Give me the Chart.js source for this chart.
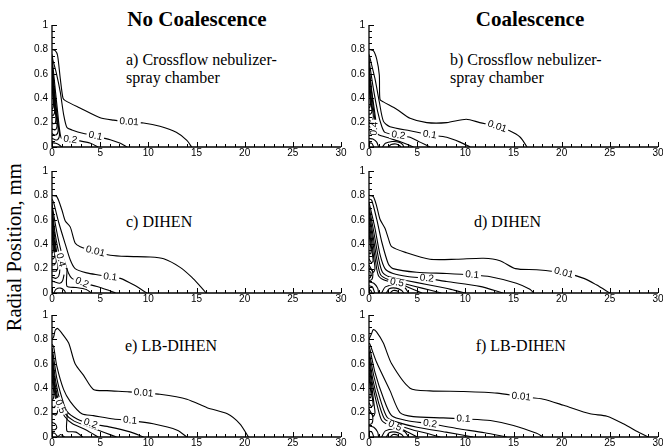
<!DOCTYPE html>
<html>
<head>
<meta charset="utf-8">
<script src="https://cdn.jsdelivr.net/npm/chart.js@4.4.1/dist/chart.umd.min.js"></script>
<style>
  body { margin: 0; background: #fff; }
  #wrap { position: relative; width: 663px; height: 447px; overflow: hidden; }
  #wrap canvas { position: absolute; }
  .txt { position: absolute; font-family: "Liberation Serif", "Times New Roman", serif; color: #000; line-height: 1; white-space: nowrap; }
  .head { font-weight: bold; font-size: 21px; width: 300px; text-align: center; }
  .lab { font-size: 16px; }
  #ytitle { font-size: 20.5px; width: 300px; text-align: center; transform: rotate(-90deg); }
</style>
</head>
<body>
<div id="wrap">
  <div class="txt head" style="left:47px; top:9px;">No Coalescence</div>
  <div class="txt head" style="left:380px; top:9px;">Coalescence</div>
  <div class="txt lab" style="left:126px; top:51.6px;">a) Crossflow nebulizer-</div>
  <div class="txt lab" style="left:126px; top:69.6px;">spray chamber</div>
  <div class="txt lab" style="left:450px; top:51.6px;">b) Crossflow nebulizer-</div>
  <div class="txt lab" style="left:450px; top:69.6px;">spray chamber</div>
  <div class="txt lab" style="left:126px; top:213.6px;">c) DIHEN</div>
  <div class="txt lab" style="left:474px; top:213.6px;">d) DIHEN</div>
  <div class="txt lab" style="left:125px; top:338.3px;">e) LB-DIHEN</div>
  <div class="txt lab" style="left:475.7px; top:338.3px;">f) LB-DIHEN</div>
  <div class="txt" id="ytitle" style="left:-136px; top:237px;">Radial Position, mm</div>
</div>
<script>
// axis ranges / ticks
var xMax = 30;
var yMax = 1;
var xStep = 5;
var yStep = 0.2;

// ---- a) crossflow, no coalescence
var a001 = [[0,0.8],[0.34,0.79],[0.58,0.75],[0.86,0.56],[1.14,0.4],[1.38,0.38],[2.9,0.32],[5,0.24],[6.4,0.22],[8,0.205],[9.5,0.197],[11.2,0.17],[12.9,0.12],[14,0.054],[14.5,0]];
var a01 = [[0,0.76],[0.1,0.71],[0.44,0.61],[0.86,0.45],[1.2,0.27],[1.55,0.16],[2.07,0.14],[3.3,0.11],[4.5,0.09],[6.05,0.06],[7.1,0.03],[7.8,0]];
var a02 = [[0,0.73],[0.1,0.66],[0.34,0.47],[0.58,0.29],[0.79,0.14],[1.0,0.07],[1.9,0.06],[2.9,0.05],[4,0.03],[4.8,0]];
var aIn1 = [[0,0.7],[0.2,0.52],[0.45,0.32],[0.65,0.18],[0.78,0.1],[0.6,0.06],[0.3,0.06],[0,0.07]];
var aIn2 = [[0,0.67],[0.18,0.5],[0.4,0.31],[0.58,0.19],[0.64,0.13],[0.45,0.1],[0.2,0.1],[0,0.11]];
var aIn3 = [[0,0.64],[0.15,0.48],[0.35,0.31],[0.5,0.21],[0.5,0.16],[0.3,0.14],[0,0.15]];
var aIn4 = [[0,0.6],[0.12,0.46],[0.28,0.33],[0.4,0.25],[0.35,0.2],[0.15,0.19],[0,0.2]];
var aIn5 = [[0,0.56],[0.1,0.45],[0.22,0.34],[0.28,0.29],[0.15,0.26],[0,0.26]];
var aIn6 = [[0,0.52],[0.08,0.43],[0.15,0.36],[0.1,0.32],[0,0.31]];
var aIn7 = [[0,0.035],[0.4,0.03],[0.8,0.015],[1.0,0]];
var aLabels = [['0.01',8.0,0.205],['0.1',4.5,0.09],['0.2',1.9,0.06]];

// ---- b) crossflow, coalescence
var b001 = [[0,0.8],[0.45,0.79],[0.8,0.72],[1.07,0.59],[1.14,0.39],[1.49,0.37],[2.87,0.31],[4.26,0.235],[6,0.2],[8.07,0.2],[10.1,0.228],[11.5,0.2],[13.3,0.168],[14.6,0.133],[15.7,0.08],[16.4,0]];
var b01 = [[0,0.76],[0.1,0.73],[0.62,0.56],[1.07,0.37],[1.5,0.21],[2.18,0.166],[4.26,0.133],[6.3,0.1],[8.07,0.08],[9.45,0.04],[10.5,0]];
var b02 = [[0,0.73],[0.05,0.69],[0.45,0.48],[0.9,0.29],[1.32,0.17],[1.65,0.12],[3.05,0.095],[4.26,0.08],[5.3,0.04],[6.33,0]];
var b04 = [[0,0.64],[0.3,0.45],[0.6,0.28],[0.75,0.18],[0.7,0.13],[1.0,0.1],[2.0,0.075],[3.2,0.045],[4.2,0.015],[4.6,0]];
var bIn1 = [[0,0.68],[0.2,0.5],[0.45,0.32],[0.6,0.22],[0.5,0.17],[0.2,0.16],[0,0.17]];
var bIn2 = [[0,0.6],[0.15,0.46],[0.35,0.32],[0.45,0.25],[0.3,0.21],[0,0.22]];
var bIn3 = [[0,0.55],[0.12,0.44],[0.25,0.34],[0.3,0.29],[0.15,0.27],[0,0.27]];
var bIn4 = [[0,0.5],[0.08,0.42],[0.15,0.36],[0.1,0.33],[0,0.32]];
var bIn5 = [[0,0.2],[0.25,0.19],[0.3,0.16],[0.2,0.14],[0,0.14]];
var bIn6 = [[0,0.07],[0.4,0.065],[0.8,0.04],[1.0,0]];
var bIn7 = [[0,0.035],[0.3,0.03],[0.5,0]];
var bIn8 = [[1.4,0],[1.7,0.03],[2.4,0.045],[3.1,0.04],[3.5,0.02],[3.6,0]];
var bIn9 = [[2.0,0],[2.3,0.02],[2.8,0.025],[3.2,0.01],[3.3,0]];
var bLabels = [['0.01',13.3,0.168],['0.1',6.3,0.1],['0.2',3.05,0.095],['0.4',0.55,0.15]];

// ---- c) DIHEN, no coalescence
var c001 = [[0,0.8],[0.5,0.79],[1.03,0.68],[1.38,0.59],[1.9,0.54],[2.4,0.41],[2.93,0.38],[4.5,0.34],[6.05,0.31],[7.8,0.3],[10.2,0.295],[11.6,0.28],[13.3,0.21],[14.5,0.13],[15.4,0.054],[16,0]];
var c01 = [[0,0.77],[0.17,0.74],[0.69,0.58],[1.38,0.4],[1.9,0.27],[2.4,0.2],[3.6,0.165],[5,0.146],[6.05,0.13],[7.1,0.12],[8.47,0.067],[9.85,0]];
var c02 = [[0,0.74],[0.1,0.68],[0.5,0.5],[0.96,0.34],[1.38,0.24],[1.73,0.16],[2.07,0.12],[3.1,0.085],[4.67,0.054],[5.7,0.027],[6.6,0]];
var c04 = [[0,0.71],[0.3,0.5],[0.7,0.33],[1.0,0.24],[1.3,0.21],[1.55,0.2],[1.55,0.055],[2.5,0.045],[3.5,0.03],[4.1,0]];
var cIn1 = [[0,0.68],[0.25,0.48],[0.55,0.3],[0.8,0.2],[0.7,0.14],[0.4,0.12],[0,0.13]];
var cIn2 = [[0,0.64],[0.2,0.46],[0.45,0.3],[0.62,0.22],[0.45,0.18],[0,0.18]];
var cIn3 = [[0,0.6],[0.15,0.45],[0.35,0.32],[0.45,0.26],[0.25,0.23],[0,0.23]];
var cIn4 = [[0,0.55],[0.1,0.44],[0.25,0.34],[0.28,0.3],[0.12,0.28],[0,0.28]];
var cIn5 = [[0,0.5],[0.07,0.42],[0.14,0.36],[0.08,0.33],[0,0.33]];
var cIn6 = [[0,0.1],[0.3,0.09],[0.8,0.08],[1.1,0.1],[1.25,0.15]];
var cIn7 = [[0.2,0],[0.4,0.03],[0.9,0.04],[1.3,0.02],[1.4,0]];
var cLabels = [['0.01',4.5,0.34],['0.1',6.05,0.13],['0.2',3.1,0.085],['0.4',0.9,0.27]];

// ---- d) DIHEN, coalescence
var d001 = [[0,0.8],[0.45,0.79],[0.8,0.71],[1.14,0.605],[1.66,0.53],[2.0,0.45],[2.35,0.38],[3.9,0.33],[6.33,0.277],[9.1,0.277],[11.9,0.285],[13.6,0.265],[15.2,0.2],[17.4,0.19],[20.2,0.165],[22.3,0.12],[23.6,0.067],[25,0]];
var d01 = [[0,0.77],[0.28,0.76],[0.8,0.605],[1.32,0.42],[2.0,0.24],[2.5,0.2],[4.95,0.17],[8.07,0.16],[10.7,0.148],[12.6,0.133],[15.3,0.08],[16.7,0.03],[17.1,0]];
var d02 = [[0,0.74],[0.1,0.71],[0.62,0.53],[1.14,0.316],[1.66,0.2],[2.5,0.16],[4,0.135],[6,0.12],[8.07,0.094],[11.5,0.054],[13.9,0]];
var d03 = [[0,0.71],[0.5,0.5],[1.0,0.28],[1.4,0.17],[2.2,0.13],[4,0.1],[6,0.07],[8.5,0.03],[10,0]];
var d04 = [[0,0.68],[0.4,0.48],[0.85,0.26],[1.2,0.15],[2.0,0.11],[3.5,0.08],[5.5,0.04],[7.5,0]];
var d05 = [[0,0.64],[0.35,0.45],[0.7,0.25],[1.0,0.14],[1.8,0.1],[2.9,0.085],[4,0.05],[5.5,0]];
var dIn1 = [[0,0.6],[0.28,0.42],[0.52,0.27],[0.62,0.2],[0.45,0.17],[0,0.23]];
var dIn2 = [[0,0.55],[0.2,0.41],[0.38,0.3],[0.42,0.26],[0.25,0.25],[0,0.28]];
var dIn3 = [[0,0.5],[0.12,0.41],[0.22,0.34],[0.12,0.32],[0,0.33]];
var dIn4 = [[0,0.2],[0.3,0.19],[0.4,0.15],[0.3,0.11],[0,0.1]];
var dIn5 = [[0,0.18],[0.18,0.17],[0.22,0.15],[0.15,0.13],[0,0.12]];
var dIn6 = [[0,0.09],[0.5,0.08],[0.9,0.04],[1.0,0]];
var dIn7 = [[0,0.06],[0.35,0.05],[0.6,0]];
var dIn8 = [[0,0.03],[0.2,0.02],[0.3,0]];
var dIn9 = [[1.3,0],[1.7,0.05],[2.7,0.065],[3.7,0.045],[4.1,0]];
var dIn10 = [[1.8,0],[2.1,0.035],[2.8,0.04],[3.4,0.02],[3.6,0]];
var dIn11 = [[2.2,0],[2.5,0.02],[3.0,0.015],[3.1,0]];
var dLabels = [['0.01',20.2,0.165],['0.1',10.7,0.148],['0.2',6.0,0.12],['0.5',2.9,0.085]];

// ---- e) LB-DIHEN, no coalescence
var e001 = [[0,0.8],[0.17,0.82],[0.34,0.876],[0.58,0.89],[1.03,0.85],[1.73,0.77],[2.4,0.6],[3.28,0.505],[4.3,0.39],[5.7,0.38],[8,0.37],[9.5,0.36],[11.2,0.35],[14,0.31],[16.1,0.24],[18.2,0.19],[19.5,0.108],[20.4,0]];
var e01 = [[0,0.76],[0.17,0.74],[0.5,0.58],[1.2,0.39],[1.9,0.29],[3.1,0.19],[4.3,0.175],[6.4,0.148],[8.1,0.135],[10.5,0.108],[13,0.056],[14,0]];
var e02 = [[0,0.73],[0.1,0.69],[0.5,0.48],[1.03,0.32],[1.55,0.21],[2.6,0.148],[4,0.11],[6.05,0.081],[8.1,0.042],[9.5,0]];
var e03 = [[0,0.7],[0.4,0.45],[0.9,0.28],[1.4,0.19],[2.3,0.13],[4,0.08],[5.5,0.035],[6.7,0]];
var e04 = [[0,0.67],[0.35,0.42],[0.8,0.26],[1.3,0.17],[2.1,0.11],[3.5,0.06],[4.8,0]];
var e05 = [[0,0.63],[0.3,0.4],[0.7,0.27],[1.0,0.24],[1.55,0.2],[1.55,0.05],[2.5,0.04],[3.2,0]];
var eIn1 = [[0,0.6],[0.25,0.42],[0.5,0.29],[0.6,0.22],[0.4,0.18],[0,0.19]];
var eIn2 = [[0,0.56],[0.18,0.42],[0.35,0.32],[0.4,0.27],[0.2,0.24],[0,0.25]];
var eIn3 = [[0,0.51],[0.1,0.42],[0.2,0.35],[0.12,0.31],[0,0.31]];
var eIn4 = [[0,0.12],[0.3,0.11],[0.5,0.08],[0.3,0.06],[0,0.06]];
var eIn5 = [[0,0.035],[0.3,0.03],[0.6,0]];
var eIn6 = [[0.6,0],[0.9,0.02],[1.3,0]];
var eLabels = [['0.01',9.5,0.36],['0.1',8.1,0.135],['0.2',4.0,0.11],['0.5',0.85,0.25]];

// ---- f) LB-DIHEN, coalescence
var f001 = [[0,0.8],[0.28,0.85],[0.45,0.88],[0.8,0.86],[1.49,0.77],[2.35,0.6],[4.26,0.4],[6.33,0.378],[9.8,0.373],[13.3,0.36],[15.8,0.33],[18.1,0.31],[20.2,0.26],[22.95,0.19],[24.7,0.17],[26.4,0.108],[28.2,0.03],[29,0]];
var f01 = [[0,0.77],[0.1,0.76],[0.8,0.61],[2.18,0.38],[3.22,0.2],[4.6,0.167],[7.7,0.157],[9.8,0.148],[12.6,0.135],[15,0.095],[17.4,0.03],[18.1,0]];
var f02 = [[0,0.74],[0.1,0.72],[0.62,0.53],[1.49,0.32],[2.35,0.175],[3.9,0.135],[6.33,0.108],[9.1,0.07],[12,0.035],[14.3,0]];
var f03 = [[0,0.71],[0.5,0.5],[1.2,0.3],[1.9,0.16],[3,0.12],[5,0.08],[8,0.04],[10.8,0]];
var f04 = [[0,0.68],[0.4,0.47],[1.0,0.28],[1.6,0.15],[2.5,0.11],[4.5,0.06],[6,0.03],[7.4,0]];
var f05 = [[0,0.64],[0.35,0.44],[0.85,0.26],[1.3,0.14],[2.0,0.1],[2.7,0.09],[3.8,0.05],[5,0]];
var fIn1 = [[0,0.6],[0.28,0.42],[0.52,0.27],[0.62,0.2],[0.45,0.17],[0,0.23]];
var fIn2 = [[0,0.55],[0.2,0.41],[0.38,0.3],[0.42,0.26],[0.25,0.25],[0,0.28]];
var fIn3 = [[0,0.5],[0.12,0.41],[0.22,0.34],[0.12,0.32],[0,0.33]];
var fIn4 = [[0,0.2],[0.3,0.19],[0.4,0.15],[0.3,0.11],[0,0.1]];
var fIn5 = [[0,0.09],[0.5,0.08],[0.9,0.04],[1.0,0]];
var fIn6 = [[0,0.05],[0.3,0.04],[0.5,0]];
var fIn7 = [[1.3,0],[1.7,0.05],[2.7,0.065],[3.7,0.045],[4.1,0]];
var fIn8 = [[1.8,0],[2.1,0.035],[2.8,0.04],[3.4,0.02],[3.6,0]];
var fIn9 = [[2.2,0],[2.5,0.02],[3.0,0.015],[3.1,0]];
var fLabels = [['0.01',15.8,0.33],['0.1',9.8,0.148],['0.2',6.33,0.108],['0.5',2.7,0.09]];

// layout of the six panels (plot-area top-left corner in page px)
var PLOT_W = 289, PLOT_H = 126, Y_AXIS_W = 20, X_AXIS_H = 14, PAD_T = 6, PAD_R = 10;
var panels = [
  { left: 52,  top: 21,  lines: [a001,a01,a02,aIn1,aIn2,aIn3,aIn4,aIn5,aIn6,aIn7], labels: aLabels },
  { left: 369, top: 21,  lines: [b001,b01,b02,b04,bIn1,bIn2,bIn3,bIn4,bIn5,bIn6,bIn7,bIn8,bIn9], labels: bLabels },
  { left: 52,  top: 167, lines: [c001,c01,c02,c04,cIn1,cIn2,cIn3,cIn4,cIn5,cIn6,cIn7], labels: cLabels },
  { left: 369, top: 167, lines: [d001,d01,d02,d03,d04,d05,dIn1,dIn2,dIn3,dIn4,dIn5,dIn6,dIn7,dIn8,dIn9,dIn10,dIn11], labels: dLabels },
  { left: 52,  top: 311, lines: [e001,e01,e02,e03,e04,e05,eIn1,eIn2,eIn3,eIn4,eIn5,eIn6], labels: eLabels },
  { left: 369, top: 311, lines: [f001,f01,f02,f03,f04,f05,fIn1,fIn2,fIn3,fIn4,fIn5,fIn6,fIn7,fIn8,fIn9], labels: fLabels }
];

var tickFont = { family: '"Liberation Sans", Arial, sans-serif', size: 10 };

// inward ticks + L-shaped frame
var framePlugin = {
  id: 'frame',
  afterDraw: function (chart) {
    var ctx = chart.ctx, x = chart.scales.x, y = chart.scales.y;
    var x0 = x.getPixelForValue(0), x1 = x.getPixelForValue(xMax);
    var y0 = y.getPixelForValue(0), y1 = y.getPixelForValue(yMax);
    ctx.save();
    ctx.strokeStyle = '#000';
    ctx.lineWidth = 1.3;
    ctx.beginPath();
    ctx.moveTo(x0, y1); ctx.lineTo(x0, y0); ctx.lineTo(x1, y0);
    ctx.stroke();
    ctx.lineWidth = 1;
    ctx.beginPath();
    for (var i = 0; i <= xMax; i++) {
      var px = Math.round(x.getPixelForValue(i)) + 0.5;
      ctx.moveTo(px, y0); ctx.lineTo(px, y0 - (i % xStep === 0 ? 5 : 3));
    }
    for (var j = 0; j <= 20; j++) {
      var py = Math.round(y.getPixelForValue(j * 0.05)) + 0.5;
      ctx.moveTo(x0, py); ctx.lineTo(x0 + (j % 4 === 0 ? 5 : 3), py);
    }
    ctx.stroke();
    ctx.restore();
  }
};

// contour level labels, rotated along the nearest segment of their line
var levelPlugin = {
  id: 'levels',
  afterDatasetsDraw: function (chart, args, opts) {
    var ctx = chart.ctx, x = chart.scales.x, y = chart.scales.y;
    var labels = opts.items || [];
    ctx.save();
    ctx.font = '10px "Liberation Sans", Arial, sans-serif';
    ctx.textAlign = 'center';
    ctx.textBaseline = 'middle';
    labels.forEach(function (lb, k) {
      var line = opts.lines[k];
      var px = x.getPixelForValue(lb[1]), py = y.getPixelForValue(lb[2]);
      var best = 1e9, ang = 0;
      for (var i = 0; i < line.length - 1; i++) {
        var ax = x.getPixelForValue(line[i][0]), ay = y.getPixelForValue(line[i][1]);
        var bx = x.getPixelForValue(line[i + 1][0]), by = y.getPixelForValue(line[i + 1][1]);
        var d = Math.hypot((ax + bx) / 2 - px, (ay + by) / 2 - py);
        if (d < best) { best = d; ang = Math.atan2(by - ay, bx - ax); }
      }
      if (ang > Math.PI / 2) ang -= Math.PI;
      if (ang < -Math.PI / 2) ang += Math.PI;
      var w = ctx.measureText(lb[0]).width;
      ctx.save();
      ctx.translate(px, py);
      ctx.rotate(ang);
      ctx.fillStyle = '#fff';
      ctx.fillRect(-w / 2 - 2, -4, w + 4, 8);
      ctx.fillStyle = '#000';
      ctx.fillText(lb[0], 0, 0);
      ctx.restore();
    });
    ctx.restore();
  }
};

var wrap = document.getElementById('wrap');
panels.forEach(function (p) {
  var cv = document.createElement('canvas');
  var w = Y_AXIS_W + PLOT_W + PAD_R, h = PAD_T + PLOT_H + X_AXIS_H;
  cv.width = w; cv.height = h;
  cv.style.width = w + 'px'; cv.style.height = h + 'px';
  cv.style.left = (p.left - Y_AXIS_W) + 'px';
  cv.style.top = (p.top - PAD_T) + 'px';
  wrap.appendChild(cv);

  // each labelled level is one of the first datasets; match by label order
  var labelLines = p.labels.map(function (lb, k) { return p.lines[k]; });

  new Chart(cv, {
    type: 'scatter',
    data: {
      datasets: p.lines.map(function (pts) {
        return { data: pts, showLine: true, borderColor: '#000', borderWidth: 1.1, pointRadius: 0, tension: 0.25, fill: false };
      })
    },
    options: {
      responsive: false,
      animation: false,
      devicePixelRatio: 1,
      layout: { padding: { top: PAD_T, right: PAD_R, left: 0, bottom: 0 } },
      plugins: { legend: { display: false }, tooltip: { enabled: false }, levels: { items: p.labels, lines: labelLines } },
      scales: {
        x: {
          type: 'linear', min: 0, max: xMax,
          afterFit: function (s) { s.height = X_AXIS_H; },
          grid: { display: false, drawTicks: false },
          border: { display: false },
          ticks: { stepSize: xStep, padding: 0, color: '#000', font: tickFont, maxRotation: 0, autoSkip: false }
        },
        y: {
          type: 'linear', min: 0, max: yMax,
          afterFit: function (s) { s.width = Y_AXIS_W; },
          grid: { display: false, drawTicks: false },
          border: { display: false },
          ticks: {
            stepSize: yStep, padding: 4, color: '#000', font: tickFont, autoSkip: false,
            callback: function (v) { return String(Math.round(v * 10) / 10); }
          }
        }
      }
    },
    plugins: [framePlugin, levelPlugin]
  });
});
</script>
</body>
</html>
